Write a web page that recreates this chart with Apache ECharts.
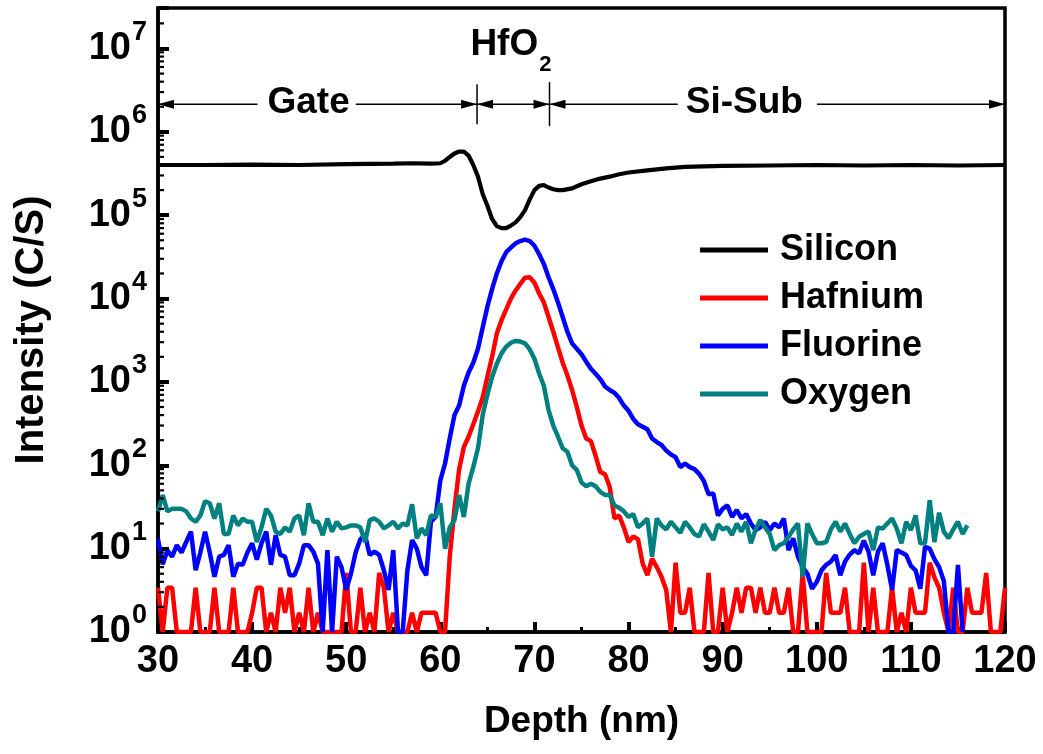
<!DOCTYPE html>
<html>
<head>
<meta charset="utf-8">
<script src="https://cdn.jsdelivr.net/npm/echarts@6/dist/echarts.min.js"></script>
<style>
  html, body { margin: 0; padding: 0; background: #ffffff; }
  #chart { width: 1043px; height: 754px; }
</style>
</head>
<body>
<div id="chart"></div>
<script>
// SIMS depth profile: counts per second versus sputter depth.
const DEPTH_START = 30;   // nm, first sample of the Hf/F/O profiles
const DEPTH_STEP = 0.5;   // nm between samples

// Hafnium, 30.0 .. 120.0 nm (1 = no counts)
const hafnium = [
  3.4, 1, 3.4, 3.4, 1, 1, 1, 1, 3.4, 1,
  1, 1, 3.4, 1, 1, 1, 3.4, 1, 1, 1,
  1.7, 3.4, 3.4, 1, 1.7, 1, 3.4, 1.7, 3.4, 1,
  1.7, 1, 3.4, 1, 1.7, 1, 1, 1, 1, 1,
  5.1, 1, 1, 3.4, 1, 1.7, 1, 5.1, 3.4, 1,
  1.7, 1, 1, 1, 1.7, 1, 1.7, 1.7, 1.7, 1.7,
  1, 1, 8, 30, 90, 165, 220, 310, 440, 650,
  1150, 2000, 3800, 5500, 7400, 10000, 12500, 15000, 17800, 18000,
  15500, 11500, 9000, 6000, 4000, 2600, 1700, 1200, 800, 500,
  300, 210, 195, 130, 83, 78, 55, 23, 25, 18,
  12, 14, 13, 6.6, 4.8, 7.6, 6, 4.6, 3.2, 1,
  6.8, 1.7, 1.7, 3.4, 1, 1, 1, 5.1, 1, 1,
  3.4, 1, 1.7, 3.4, 1.7, 3.4, 3.4, 1.7, 3.4, 1.7,
  1.7, 3.4, 1.7, 1.7, 3.4, 1, 1, 5.1, 1, 1,
  1, 1, 5.1, 1.7, 1.7, 1.7, 3.4, 1, 1, 1,
  6.8, 1, 3.4, 1, 1, 1, 3.4, 1, 1.7, 1,
  3.4, 1.7, 1.7, 1.7, 6.8, 4.5, 3.4, 1.7, 1, 3.4,
  1, 1, 3.4, 1.7, 1.7, 1.7, 5.1, 1, 1, 1,
  3.4
];

// Fluorine, 30.0 .. 115.5 nm
const fluorine = [
  13, 6.5, 9.5, 8, 11, 9, 12, 16, 5.5, 9,
  16, 9, 4.6, 8, 8.4, 11, 4.6, 6.6, 6.4, 9,
  11.6, 7.4, 11.6, 16, 6.4, 14.5, 8.4, 8, 4.8, 4.8,
  6.6, 11, 11, 9.2, 6.6, 1, 9.6, 1, 8, 6,
  3.2, 5, 9, 13, 14.5, 8.4, 9.2, 8.4, 5.5, 3.2,
  9.6, 1, 1, 5.5, 12.7, 10, 6, 4.8, 21, 24,
  66, 105, 210, 400, 520, 900, 1300, 1700, 2500, 4500,
  8000, 13000, 20000, 28000, 36000, 41000, 46000, 49000, 51000, 49000,
  43000, 34000, 26000, 18000, 13000, 9000, 6000, 4000, 2900, 2500,
  2150, 1750, 1440, 1250, 1080, 880, 800, 740, 640, 520,
  450, 360, 310, 290, 270, 210, 190, 175, 150, 135,
  125, 95, 105, 95, 90, 79, 65, 45, 46, 25,
  30, 33, 24, 29, 23, 26, 20, 16.7, 18, 21,
  16.7, 20, 18, 23, 9.6, 13.3, 8, 6, 5, 3.3,
  4, 5.5, 6.4, 7, 8.4, 4.8, 7, 8.5, 9.6, 8.8,
  12.5, 9.2, 4.8, 9.2, 11.6, 6.4, 3.2, 9.6, 9, 8.4,
  6.2, 5.5, 3.3, 10.5, 10, 7.5, 6, 4.1, 1, 1,
  6.4, 1
];

// Oxygen, 30.0 .. 116.0 nm
const oxygen = [
  28, 44, 28, 30, 30, 30, 28, 23, 21, 25,
  37, 35, 23, 35, 15, 15, 25, 19, 23, 21,
  21, 12, 18, 30, 25, 16, 15, 18, 16, 23,
  25, 14.5, 35, 21, 21, 14.5, 23, 16, 21, 17.5,
  18, 19, 19, 18, 12, 22, 23, 21, 17.5, 19,
  21, 17.5, 20, 19, 34, 13.3, 17.5, 14.5, 25, 24,
  35, 10, 18, 22, 44, 24, 60, 95, 160, 400,
  700, 1150, 1650, 2200, 2650, 2950, 3100, 3050, 2900, 2450,
  1900, 1260, 900, 460, 300, 220, 160, 145, 100, 88,
  62, 56, 60, 56, 48, 44, 44, 33, 31, 28,
  24, 26, 18, 20, 23, 8, 23, 19, 17, 21,
  18, 15.5, 21, 18, 15, 14, 19.6, 16, 12.7, 19.6,
  17, 18, 14.6, 20, 16, 21, 11.6, 17, 22, 18,
  15, 9.6, 11, 11.6, 13.9, 17, 20, 4.6, 20, 15,
  11.6, 11.6, 12, 17, 21, 16, 20, 15, 11.6, 13.9,
  15, 16, 9.6, 18, 17.4, 20, 23, 17.4, 11.6, 21,
  16.7, 25, 11.6, 11.6, 38, 12, 27, 16, 13.3, 17,
  21, 15, 19
];

// Silicon matrix signal (smooth), own depth grid
const siliconDepth = [
  30, 35, 40, 45, 50, 55, 57, 59, 60, 60.5,
  61, 61.5, 62, 62.5, 63, 63.5, 64, 64.5, 65, 65.5,
  66, 66.5, 67, 67.5, 68, 68.5, 69, 69.5, 70, 70.5,
  71, 71.5, 72, 72.5, 73, 74, 75, 76, 77, 78,
  79, 80, 82, 84, 86, 88, 90, 95, 100, 105,
  110, 115, 120
];
const silicon = [
  4.0e5, 4.0e5, 4.05e5, 4.0e5, 4.1e5, 4.15e5, 4.2e5, 4.15e5, 4.2e5, 4.5e5,
  5.0e5, 5.5e5, 5.8e5, 5.8e5, 5.2e5, 4.0e5, 2.9e5, 1.8e5, 1.3e5, 9.0e4,
  7.4e4, 7.0e4, 7.0e4, 7.5e4, 8.2e4, 9.5e4, 1.15e5, 1.55e5, 2.0e5, 2.25e5,
  2.3e5, 2.15e5, 2.05e5, 2.0e5, 2.0e5, 2.1e5, 2.35e5, 2.55e5, 2.75e5, 2.9e5,
  3.1e5, 3.25e5, 3.45e5, 3.65e5, 3.8e5, 3.85e5, 3.9e5, 3.95e5, 4.0e5, 3.95e5,
  4.0e5, 3.95e5, 4.0e5
];

const seriesNames = ['Silicon', 'Hafnium', 'Fluorine', 'Oxygen'];
const seriesColors = ['#000000', '#ff0000', '#0000ff', '#008080'];

// Axis ranges
const X_MIN = 30, X_MAX = 120, X_INTERVAL = 10;
const Y_MIN = 1, Y_MAX = 3.06e7;

// Layer stack drawn above the profiles (boundaries in nm)
const layerBounds = [30, 63.9, 71.6, 120];
const gateLabelAt = 46.0;
const subLabelAt = 92.3;
const hfLabelAt = 67.5;
const layerArrowLevel = 2.15e6;
const hfLabelLevel = 1.1e7;

const FONT = '"Liberation Sans", Arial, Helvetica, sans-serif';

function pairs(values, start, step) {
  return values.map((v, i) => [start + i * step, v]);
}

// log-axis minor ticks (2..9 within each decade)
const yMinorTicks = [];
for (let e = 0; e <= 7; e++) {
  for (let m = 2; m <= 9; m++) {
    const v = m * Math.pow(10, e);
    if (v < Y_MAX) yMinorTicks.push(v);
  }
}

const chart = echarts.init(document.getElementById('chart'), null, { renderer: 'canvas' });

const lineSeries = [
  { name: 'Silicon', data: siliconDepth.map((d, i) => [d, silicon[i]]), width: 4.2 },
  { name: 'Hafnium', data: pairs(hafnium, DEPTH_START, DEPTH_STEP), width: 4.5 },
  { name: 'Fluorine', data: pairs(fluorine, DEPTH_START, DEPTH_STEP), width: 4.5 },
  { name: 'Oxygen', data: pairs(oxygen, DEPTH_START, DEPTH_STEP), width: 4.5 }
].map((s, i) => ({
  type: 'line',
  name: s.name,
  data: s.data,
  showSymbol: false,
  symbol: 'none',
  color: seriesColors[i],
  lineStyle: { color: seriesColors[i], width: s.width },
  z: 3 + i,
  animation: false
}));

const option = {
  animation: false,
  backgroundColor: '#ffffff',
  grid: {
    left: 158, right: 38, top: 8, bottom: 122,
    show: true, borderColor: '#000', borderWidth: 3.5, backgroundColor: 'transparent'
  },
  legend: {
    data: seriesNames,
    orient: 'vertical',
    left: 700, top: 231,
    padding: 0,
    icon: 'rect',
    itemWidth: 68, itemHeight: 5,
    itemGap: 10,
    textStyle: {
      fontFamily: FONT, fontWeight: 'bold', fontSize: 36, color: '#000',
      lineHeight: 38, padding: [0, 0, 0, 7]
    },
    selectedMode: false
  },
  xAxis: {
    type: 'value',
    min: X_MIN, max: X_MAX, interval: X_INTERVAL,
    axisLine: { show: true, lineStyle: { color: '#000', width: 3.5 } },
    axisTick: { show: true, inside: true, length: 10, lineStyle: { color: '#000', width: 4 } },
    minorTick: { show: true, splitNumber: 2, length: 5, lineStyle: { color: '#000', width: 3 } },
    splitLine: { show: false },
    axisLabel: {
      margin: 11, color: '#000', fontFamily: FONT, fontWeight: 'bold', fontSize: 38
    }
  },
  yAxis: {
    type: 'log', logBase: 10,
    min: Y_MIN, max: Y_MAX,
    axisLine: { show: true, lineStyle: { color: '#000', width: 3.5 } },
    axisTick: { show: true, inside: true, length: 11, lineStyle: { color: '#000', width: 4 } },
    splitLine: { show: false },
    axisLabel: {
      margin: 11,
      formatter: function (v) {
        const l = Math.log10(v);
        const e = Math.round(l);
        if (Math.abs(l - e) > 1e-6) return '';
        return '{b|10}{s|' + e + '}';
      },
      rich: {
        b: { fontFamily: FONT, fontWeight: 'bold', fontSize: 38, lineHeight: 38, color: '#000' },
        s: { fontFamily: FONT, fontWeight: 'bold', fontSize: 27, lineHeight: 27, color: '#000', padding: [0, 0, 32, 1] }
      }
    }
  },
  series: lineSeries.concat([{
    type: 'custom',
    name: 'minor-ticks',
    silent: true,
    clip: false,
    z: 10,
    data: yMinorTicks.map(v => [X_MIN, v]),
    renderItem: function (params, api) {
      const p = api.coord([api.value(0), api.value(1)]);
      return {
        type: 'line',
        shape: { x1: p[0], y1: p[1], x2: p[0] + 6, y2: p[1] },
        style: { stroke: '#000', lineWidth: 2.2 }
      };
    }
  }])
};

chart.setOption(option);

// ---- annotations: axis titles and layer arrows ----
const measureCtx = document.createElement('canvas').getContext('2d');
function textWidth(str, size) {
  measureCtx.font = 'bold ' + size + 'px ' + FONT;
  return measureCtx.measureText(str).width;
}
function px(x, y) {
  return chart.convertToPixel({ gridIndex: 0 }, [x, y]);
}
function head(tipX, y, dir) {
  const L = 16, H = 4.5;
  return {
    type: 'polygon',
    shape: { points: [[tipX, y], [tipX - dir * L, y - H], [tipX - dir * L, y + H]] },
    style: { fill: '#000' },
    z: 20
  };
}
function hline(x1, x2, y) {
  return {
    type: 'line',
    shape: { x1: x1, y1: y, x2: x2, y2: y },
    style: { stroke: '#000', lineWidth: 1.5 },
    z: 20
  };
}
function vline(x, y1, y2) {
  return {
    type: 'line',
    shape: { x1: x, y1: y1, x2: x, y2: y2 },
    style: { stroke: '#000', lineWidth: 1.5 },
    z: 20
  };
}
function label(str, cx, cy, size) {
  return {
    type: 'text',
    x: cx, y: cy,
    style: {
      text: str, fill: '#000', font: 'bold ' + size + 'px ' + FONT,
      align: 'center', verticalAlign: 'middle'
    },
    z: 20
  };
}

const ay = px(X_MIN, layerArrowLevel)[1];
const bx = layerBounds.map(b => px(b, layerArrowLevel)[0]);
const gateX = px(gateLabelAt, layerArrowLevel)[0];
const subX = px(subLabelAt, layerArrowLevel)[0];
const hfP = px(hfLabelAt, hfLabelLevel);
const LABEL_SIZE = 37;
const gw = textWidth('Gate', LABEL_SIZE) / 2;
const sw = textWidth('Si-Sub', LABEL_SIZE) / 2;

const elements = [
  // Gate
  hline(bx[0], gateX - gw - 10, ay),
  hline(gateX + gw + 6, bx[1], ay),
  head(bx[0], ay, -1),
  head(bx[1], ay, 1),
  label('Gate', gateX, ay - 1, LABEL_SIZE),
  // HfO2
  hline(bx[1], bx[2], ay),
  head(bx[1], ay, -1),
  head(bx[2], ay, 1),
  vline(bx[1], ay - 20, ay + 20),
  vline(bx[2], ay - 22, ay + 22),
  {
    type: 'text',
    x: hfP[0], y: hfP[1],
    style: {
      text: '{a|HfO}{s|2}',
      align: 'center', verticalAlign: 'middle',
      rich: {
        a: { fontFamily: FONT, fontWeight: 'bold', fontSize: 37, lineHeight: 37, fill: '#000' },
        s: { fontFamily: FONT, fontWeight: 'bold', fontSize: 22, lineHeight: 22, fill: '#000', padding: [40, 0, 0, 1] }
      }
    },
    z: 20
  },
  // Si substrate
  hline(bx[2], subX - sw - 8, ay),
  hline(subX + sw + 14, bx[3], ay),
  head(bx[2], ay, -1),
  head(bx[3], ay, 1),
  label('Si-Sub', subX, ay - 1, LABEL_SIZE),
  // axis titles
  label('Depth (nm)', (bx[0] + bx[3]) / 2, 722, 37),
  {
    type: 'text',
    x: 32, y: 330,
    rotation: Math.PI / 2,
    style: {
      text: 'Intensity (C/S)', fill: '#000', font: 'bold 40px ' + FONT,
      align: 'center', verticalAlign: 'middle'
    },
    z: 20
  }
];

chart.setOption({ graphic: { elements: elements } });
</script>
</body>
</html>
